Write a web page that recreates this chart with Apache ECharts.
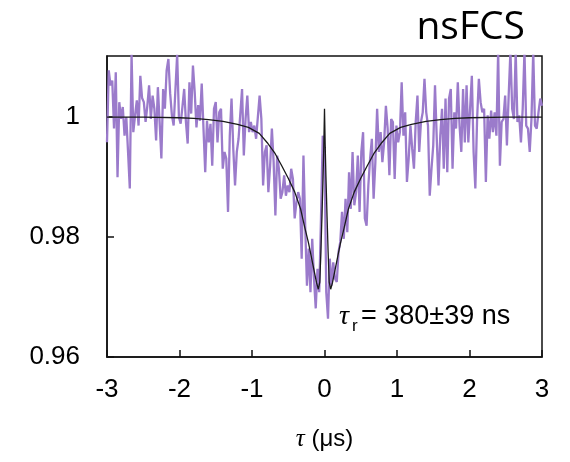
<!DOCTYPE html>
<html>
<head>
<meta charset="utf-8">
<script src="https://cdn.jsdelivr.net/npm/echarts@6/dist/echarts.min.js"></script>
<style>
  html, body { margin: 0; padding: 0; background: #fff; }
  #chart { width: 570px; height: 462px; }
</style>
</head>
<body>
<div id="chart"></div>
<script>
const tauStart = -3;
const tauEnd = 3;
const gStripA = [0.9958, 1.0078, 1.0053, 1.0061, 0.9981, 1.0075, 0.9900, 1.0025, 0.9997, 1.0017,
  0.9969, 1.0000, 0.9942, 0.9881, 1.0105, 0.9975, 1.0003, 1.0028, 0.9986, 1.0069,
  1.0032, 1.0025, 0.9992, 1.0019, 1.0053, 0.9997, 1.0036, 1.0014, 0.9961, 1.0050,
  0.9992, 0.9931, 1.0047, 1.0014, 1.0078, 1.0097, 1.0040, 1.0003, 0.9986, 0.9983,
  1.0105, 1.0000, 0.9989, 1.0017, 1.0047, 0.9992, 0.9956, 1.0058, 1.0006, 1.0086,
  1.0042, 0.9983, 1.0020, 0.9994, 1.0056, 1.0053, 0.9908, 0.9994, 0.9958, 0.9989,
  0.9919, 1.0014];
const gStripB = [1.0025, 0.9958, 1.0008, 1.0014, 0.9914, 0.9942, 0.9931, 0.9842, 0.9969, 1.0031,
  0.9947, 0.9886, 0.9942, 0.9964, 0.9967, 1.0047, 0.9936, 0.9997, 1.0036, 0.9975,
  0.9992, 0.9975, 0.9986, 0.9964, 0.9961, 1.0036, 0.9997, 0.9886, 0.9942, 0.9953,
  0.9875, 0.9919, 0.9981, 0.9925, 0.9836, 0.9936, 0.9914, 0.9864, 0.9875, 0.9903,
  0.9869, 0.9886, 0.9875, 0.9914, 0.9897, 0.9831, 0.9858, 0.9875, 0.9864, 0.9764,
  0.9936, 0.9819, 0.9719, 0.9781, 0.9708, 0.9797, 0.9731, 0.9681, 0.9747, 0.9708,
  0.9831, 0.9969];
const gStripC = [0.9947, 0.9708, 0.9664, 0.9764, 0.9719, 0.9758, 0.9731, 0.9725, 0.9775, 0.9792,
  0.9842, 0.9797, 0.9864, 0.9808, 0.9908, 0.9847, 0.9942, 0.9853, 0.9875, 0.9936,
  0.9842, 0.9942, 0.9975, 0.9831, 0.9819, 0.9886, 0.9931, 0.9964, 0.9864, 0.9925,
  1.0014, 0.9942, 0.9975, 0.9925, 0.9958, 1.0019, 0.9981, 0.9903, 0.9997, 0.9992,
  0.9897, 0.9986, 0.9958, 0.9975, 1.0058, 0.9969, 1.0008, 0.9892, 0.9931, 0.9986,
  0.9947, 0.9914, 0.9992, 1.0036, 0.9942, 0.9992, 1.0008, 1.0064, 1.0008, 0.9986,
  0.9869, 0.9914];
const gStripD = [0.9953, 1.0053, 0.9964, 0.9886, 0.9969, 1.0014, 0.9914, 1.0031, 0.9908, 1.0031,
  1.0047, 0.9914, 1.0008, 0.9981, 1.0058, 0.9986, 0.9942, 1.0047, 0.9958, 1.0053,
  0.9958, 1.0014, 1.0069, 0.9942, 0.9881, 0.9997, 1.0064, 1.0025, 1.0008, 1.0014,
  0.9892, 1.0003, 0.9964, 1.0011, 0.9975, 1.0008, 0.9969, 1.0110, 0.9919, 0.9992,
  0.9997, 1.0036, 0.9953, 1.0036, 1.0110, 1.0014, 0.9997, 1.0110, 0.9992, 1.0003,
  0.9958, 1.0014, 1.0110, 0.9986, 0.9981, 0.9942, 0.9997, 1.0110, 0.9986, 0.9981,
  1.0008, 1.0031, 1.0019];

// fit curve, points
const fitTau = [-3, -2.5, -2, -1.8, -1.6, -1.4, -1.2, -1.05, -0.9, -0.78, -0.68, -0.59, -0.5,
  -0.41, -0.33, -0.27, -0.22, -0.18, -0.14, -0.11, -0.085, -0.065, -0.05, -0.035, -0.02, -0.01,
  0, 0.01, 0.02, 0.035, 0.05, 0.065, 0.085, 0.11, 0.14, 0.18, 0.22, 0.27, 0.33, 0.41, 0.5,
  0.59, 0.68, 0.78, 0.9, 1.05, 1.2, 1.4, 1.6, 1.8, 2, 2.5, 3];
const fitG = [1.0000, 1.0000, 0.9999, 0.9998, 0.9996, 0.9993, 0.9988, 0.9983, 0.9973, 0.9956,
  0.9939, 0.9919, 0.9898, 0.9875, 0.9847, 0.9815, 0.9790, 0.9766, 0.9742, 0.9724, 0.9713,
  0.9725, 0.9775, 0.9835, 0.9900, 0.9950, 1.0014, 0.9950, 0.9900, 0.9835, 0.9775, 0.9725,
  0.9713, 0.9724, 0.9742, 0.9766, 0.9790, 0.9815, 0.9847, 0.9875, 0.9898, 0.9919, 0.9939,
  0.9956, 0.9973, 0.9983, 0.9988, 0.9993, 0.9996, 0.9998, 0.9999, 1.0000, 1.0000];

const yTicks = [0.96, 0.98, 1];
const xTicks = [-3, -2, -1, 0, 1, 2, 3];

const gAll = gStripA.concat(gStripB, gStripC, gStripD);
const tauStep = (tauEnd - tauStart) / (gAll.length - 1);
const dataSeries = gAll.map((g, i) => [tauStart + i * tauStep, g]);
const fitSeries = fitTau.map((t, i) => [t, fitG[i]]);

const chart = echarts.init(document.getElementById('chart'), null, { renderer: 'canvas' });
const textColor = '#000';
const labelFont = '"Liberation Sans", Arial, sans-serif';

const option = {
  backgroundColor: '#fff',
  animation: false,
  title: {
    text: 'nsFCS',
    right: 40,
    top: 3,
    textStyle: {
      fontFamily: '"Open Sans", sans-serif',
      fontWeight: 'normal',
      fontSize: 39,
      color: textColor,
    },
  },
  grid: {
    left: 107,
    top: 56,
    width: 435,
    height: 301,
    show: true,
    borderColor: '#111',
    borderWidth: 1.5,
    containLabel: false,
  },
  xAxis: {
    type: 'value',
    min: xTicks[0],
    max: xTicks[xTicks.length - 1],
    interval: 1,
    name: '{t|τ}{n| (μs)}',
    nameLocation: 'middle',
    nameGap: 70,
    nameTextStyle: {
      rich: {
        t: { fontFamily: '"Liberation Serif", serif', fontStyle: 'italic', fontSize: 25, color: textColor },
        n: { fontFamily: labelFont, fontSize: 24, color: textColor },
      },
    },
    axisLine: { show: true, onZero: false, lineStyle: { color: '#111', width: 1.5 } },
    axisTick: { show: true, inside: true, length: 7, lineStyle: { color: '#111', width: 1.5 } },
    splitLine: { show: false },
    axisLabel: {
      margin: 20,
      color: textColor,
      fontFamily: labelFont,
      fontSize: 26,
    },
  },
  yAxis: {
    type: 'value',
    min: yTicks[0],
    max: 1.0102,
    interval: 0.02,
    axisLine: { show: true, onZero: false, lineStyle: { color: '#111', width: 1.5 } },
    axisTick: { show: true, inside: true, length: 7, lineStyle: { color: '#111', width: 1.5 } },
    splitLine: { show: false },
    axisLabel: {
      margin: 27,
      showMaxLabel: false,
      color: textColor,
      fontFamily: labelFont,
      fontSize: 26,
      formatter: (v) => (yTicks.some((t) => Math.abs(t - v) < 1e-6) ? String(+v.toFixed(2)) : ''),
    },
  },
  graphic: [{
    type: 'text',
    left: 339,
    top: 303,
    style: { text: 'τ', font: 'italic 28px "Liberation Serif", serif', fill: textColor },
  }, {
    type: 'text',
    left: 352,
    top: 318,
    style: { text: 'r', font: '17px "Liberation Sans", sans-serif', fill: textColor },
  }, {
    type: 'text',
    left: 361,
    top: 303,
    style: { text: '= 380±39 ns', font: '27px "Liberation Sans", sans-serif', fill: textColor },
  }],
  series: [{
    name: 'data',
    type: 'line',
    data: dataSeries,
    symbol: 'none',
    clip: true,
    lineStyle: { color: '#9b7bcb', width: 2.3 },
    z: 2,
  }, {
    name: 'fit',
    type: 'line',
    data: fitSeries,
    symbol: 'none',
    clip: true,
    lineStyle: { color: '#1a1a1a', width: 1.3 },
    z: 3,
  }],
};

chart.setOption(option);
</script>
</body>
</html>
